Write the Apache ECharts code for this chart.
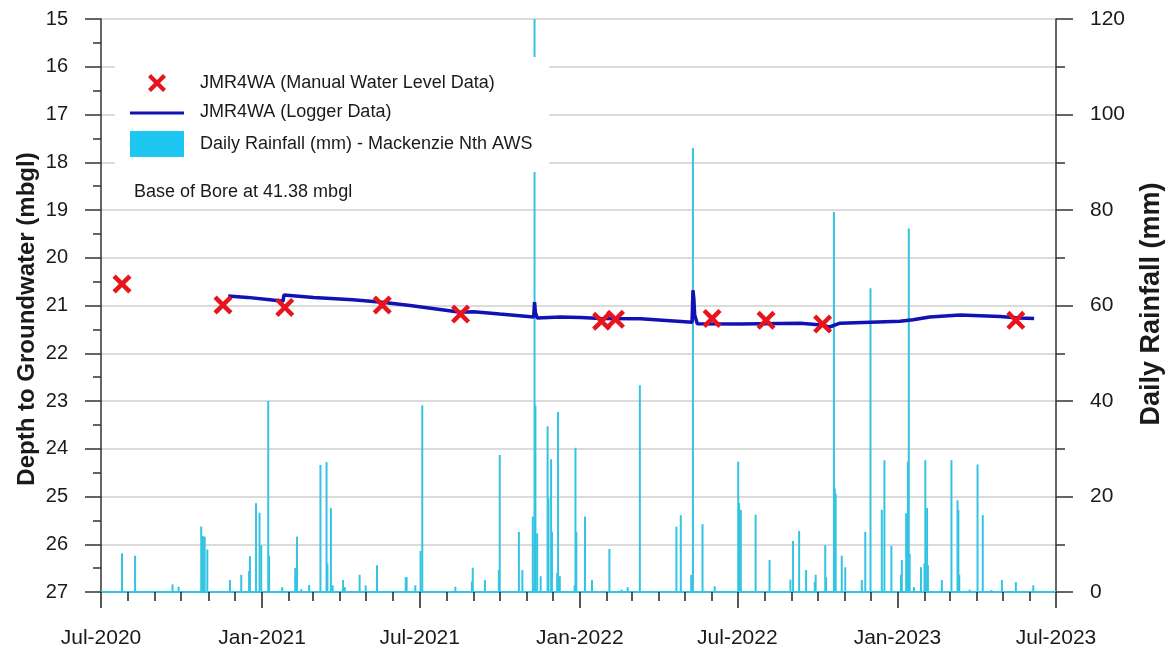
<!DOCTYPE html>
<html>
<head>
<meta charset="utf-8">
<script src="https://cdn.jsdelivr.net/npm/echarts@6/dist/echarts.min.js"></script>
<style>
html,body{margin:0;padding:0;background:#fff;}
#chart{width:1171px;height:652px;}
</style>
</head>
<body>
<div id="chart"></div>
<script>
// ---- Data ----
const manualLevels = [
  ['2020-07-24', 20.55], ['2020-11-17', 20.99], ['2021-01-27', 21.04],
  ['2021-05-19', 20.99], ['2021-08-17', 21.18], ['2022-01-26', 21.33],
  ['2022-02-11', 21.29], ['2022-06-02', 21.27], ['2022-08-03', 21.31],
  ['2022-10-07', 21.39], ['2023-05-17', 21.31]
];
const loggerLevels = [
  ['2020-11-23', 20.80], ['2020-12-15', 20.83], ['2021-01-10', 20.88],
  ['2021-01-25', 20.91], ['2021-01-26', 20.78], ['2021-03-01', 20.83],
  ['2021-04-15', 20.88], ['2021-05-19', 20.93], ['2021-06-20', 21.00],
  ['2021-08-17', 21.14], ['2021-09-01', 21.13], ['2021-10-01', 21.18],
  ['2021-11-09', 21.24], ['2021-11-10', 20.93], ['2021-11-11', 21.15],
  ['2021-11-13', 21.26], ['2021-12-10', 21.24], ['2022-01-02', 21.25],
  ['2022-01-25', 21.27], ['2022-03-12', 21.28], ['2022-05-10', 21.35],
  ['2022-05-11', 20.68], ['2022-05-12', 20.85], ['2022-05-13', 21.20],
  ['2022-05-16', 21.38], ['2022-07-04', 21.39], ['2022-09-11', 21.37],
  ['2022-10-06', 21.41], ['2022-10-15', 21.45], ['2022-10-27', 21.37],
  ['2022-12-01', 21.35], ['2023-01-04', 21.33], ['2023-01-19', 21.30],
  ['2023-02-07', 21.24], ['2023-03-14', 21.20], ['2023-04-29', 21.23],
  ['2023-05-21', 21.26], ['2023-06-07', 21.27]
];
const dailyRainfall = [
  ['2020-07-24',8.1],['2020-08-08',7.6],['2020-09-20',1.6],['2020-09-27',1.1],
  ['2020-10-23',13.7],['2020-10-25',11.7],['2020-10-27',11.6],['2020-10-30',8.9],
  ['2020-11-25',2.5],['2020-12-08',3.6],['2020-12-17',4.4],['2020-12-18',7.5],
  ['2020-12-25',18.6],['2020-12-29',16.6],['2020-12-31',9.8],['2021-01-08',40.0],
  ['2021-01-09',7.6],['2021-01-24',1.0],['2021-02-08',5.0],['2021-02-10',11.6],
  ['2021-02-15',0.6],['2021-02-24',1.5],['2021-03-09',26.6],['2021-03-16',27.2],
  ['2021-03-17',6.0],['2021-03-21',17.6],['2021-03-23',1.4],['2021-04-04',2.5],
  ['2021-04-06',1.0],['2021-04-23',3.6],['2021-04-30',1.4],['2021-05-13',5.6],
  ['2021-06-15',3.1],['2021-06-16',3.1],['2021-06-26',1.4],['2021-07-02',8.6],
  ['2021-07-04',39.1],['2021-08-11',1.1],['2021-08-30',2.2],['2021-08-31',5.1],
  ['2021-09-14',2.5],['2021-09-30',4.6],['2021-10-01',28.7],['2021-10-23',12.6],
  ['2021-10-27',4.6],['2021-11-08',15.8],['2021-11-10',120],['2021-11-11',39.1],
  ['2021-11-13',12.3],['2021-11-17',3.3],['2021-11-25',34.7],['2021-11-26',19.6],
  ['2021-11-29',27.8],['2021-11-30',12.6],['2021-12-06',4.0],['2021-12-07',37.7],
  ['2021-12-09',3.3],['2021-12-26',1.4],['2021-12-27',30.2],['2021-12-28',12.6],
  ['2022-01-07',15.8],['2022-01-15',2.5],['2022-02-04',9.0],['2022-02-18',0.5],
  ['2022-02-25',1.0],['2022-03-11',43.3],['2022-04-22',13.7],['2022-04-27',16.1],
  ['2022-05-09',3.6],['2022-05-11',93.0],['2022-05-22',14.2],['2022-06-05',1.2],
  ['2022-07-02',27.3],['2022-07-03',18.6],['2022-07-05',17.2],['2022-07-22',16.2],
  ['2022-08-07',6.7],['2022-08-31',2.6],['2022-09-03',10.7],['2022-09-10',12.8],
  ['2022-09-18',4.6],['2022-09-28',2.1],['2022-09-29',3.6],['2022-10-10',9.8],
  ['2022-10-11',3.1],['2022-10-20',79.6],['2022-10-21',21.7],['2022-10-22',20.6],
  ['2022-10-29',7.6],['2022-11-02',5.2],['2022-11-21',2.5],['2022-11-25',12.6],
  ['2022-12-01',63.6],['2022-12-14',17.2],['2022-12-17',27.6],['2022-12-25',9.7],
  ['2023-01-05',3.6],['2023-01-06',6.7],['2023-01-11',16.5],['2023-01-13',27.3],
  ['2023-01-14',76.1],['2023-01-15',8.0],['2023-01-20',1.0],['2023-01-28',5.2],
  ['2023-02-01',6.0],['2023-02-02',27.6],['2023-02-04',17.6],['2023-02-05',5.6],
  ['2023-02-21',2.5],['2023-03-04',27.6],['2023-03-11',19.2],['2023-03-12',17.2],
  ['2023-03-13',3.6],['2023-03-25',0.5],['2023-04-03',26.7],['2023-04-09',16.1],
  ['2023-04-19',0.4],['2023-05-01',2.5],['2023-05-17',2.1],['2023-06-06',1.4]
];
const monthNames = ['Jan','Feb','Mar','Apr','May','Jun','Jul','Aug','Sep','Oct','Nov','Dec'];
const xStart = '2020-07-01';
const xEnd = '2023-07-01';
const legendLabels = ['JMR4WA (Manual Water Level Data)', 'JMR4WA (Logger Data)', 'Daily Rainfall (mm) - Mackenzie Nth AWS'];
const noteText = 'Base of Bore at 41.38 mbgl';
const leftTitle = 'Depth to Groundwater (mbgl)';
const rightTitle = 'Daily Rainfall (mm)';

// ---- Styles ----
const FONT = 'Liberation Sans, Arial, sans-serif';
const TXT = '#1a1a1a';
const RED = '#e8141c';
const BLUE = '#1212b4';
const CYAN = '#34c4e2';
const CYAN_LEG = '#1ec6f2';
const X_PATH = 'path://M0,3 L3,0 L9,6 L15,0 L18,3 L12,9 L18,15 L15,18 L9,12 L3,18 L0,15 L6,9 Z';
const X_POINTS = [[0,3],[3,0],[9,6],[15,0],[18,3],[12,9],[18,15],[15,18],[9,12],[3,18],[0,15],[6,9]];
const HALF_MONTH = 15 * 86400000;

const chart = echarts.init(document.getElementById('chart'), null, {renderer: 'canvas'});

const option = {
  animation: false,
  backgroundColor: '#fff',
  grid: {left: 101, top: 19, width: 955, height: 573, containLabel: false},
  xAxis: [
    {
      type: 'time', min: xStart, max: xEnd, splitNumber: 6, position: 'bottom',
      axisLine: {show: true, lineStyle: {color: CYAN, width: 2}},
      axisTick: {show: true, length: 16, lineStyle: {color: '#222', width: 1.5}},
      axisLabel: {
        color: TXT, fontFamily: FONT, fontSize: 21, margin: 36,
        showMinLabel: true, showMaxLabel: true,
        formatter: function (v) { const d = new Date(v + HALF_MONTH); return monthNames[d.getMonth()] + '-' + d.getFullYear(); }
      },
      splitLine: {show: false}
    },
    {
      type: 'time', min: xStart, max: xEnd, splitNumber: 36, position: 'bottom',
      axisLine: {show: false},
      axisTick: {show: true, length: 9, lineStyle: {color: '#222', width: 1.5}},
      axisLabel: {show: false},
      splitLine: {show: false}
    }
  ],
  yAxis: [
    {
      type: 'value', inverse: true, min: 15, max: 27, interval: 1, position: 'left',
      axisLine: {show: true, lineStyle: {color: '#333', width: 1.5}},
      axisTick: {show: true, length: 16, lineStyle: {color: '#333', width: 1.5}},
      minorTick: {show: true, splitNumber: 2, length: 8, lineStyle: {color: '#333', width: 1.5}},
      axisLabel: {color: TXT, fontFamily: FONT, fontSize: 20, margin: 33},
      splitLine: {show: true, lineStyle: {color: '#cfcfcf', width: 1.5}}
    },
    {
      type: 'value', min: 0, max: 120, interval: 20, position: 'right',
      axisLine: {show: true, lineStyle: {color: '#333', width: 1.5}},
      axisTick: {show: true, length: 17, lineStyle: {color: '#333', width: 1.5}},
      minorTick: {show: true, splitNumber: 2, length: 9, lineStyle: {color: '#333', width: 1.5}},
      axisLabel: {color: TXT, fontFamily: FONT, fontSize: 21, margin: 34},
      splitLine: {show: false}
    }
  ],
  series: [
    {
      name: legendLabels[2], type: 'bar', xAxisIndex: 0, yAxisIndex: 1,
      data: dailyRainfall, barWidth: 2,
      itemStyle: {color: CYAN}, z: 2, silent: true
    },
    {
      name: legendLabels[1], type: 'line', xAxisIndex: 0, yAxisIndex: 0,
      data: loggerLevels, showSymbol: false, symbol: 'none',
      lineStyle: {color: BLUE, width: 3.5}, z: 3, silent: true
    },
    {
      name: legendLabels[0], type: 'scatter', xAxisIndex: 0, yAxisIndex: 0,
      data: manualLevels, symbol: X_PATH, symbolSize: 19,
      itemStyle: {color: RED, opacity: 1}, z: 4, silent: true
    }
  ],
  graphic: [
    {type: 'rect', z: 50, shape: {x: 115, y: 57, width: 434, height: 115}, style: {fill: '#fff'}},
    {type: 'polygon', z: 51, x: 148, y: 74, shape: {points: X_POINTS}, style: {fill: RED}},
    {type: 'line', z: 51, shape: {x1: 130, y1: 113, x2: 184, y2: 113}, style: {stroke: BLUE, lineWidth: 3}},
    {type: 'rect', z: 51, shape: {x: 130, y: 131, width: 54, height: 26}, style: {fill: CYAN_LEG}},
    {type: 'text', z: 51, x: 200, y: 83, style: {text: legendLabels[0], font: '18px ' + FONT, fill: TXT, textVerticalAlign: 'middle'}},
    {type: 'text', z: 51, x: 200, y: 112, style: {text: legendLabels[1], font: '18px ' + FONT, fill: TXT, textVerticalAlign: 'middle'}},
    {type: 'text', z: 51, x: 200, y: 144, style: {text: legendLabels[2], font: '18px ' + FONT, fill: TXT, textVerticalAlign: 'middle'}},
    {type: 'text', z: 51, x: 134, y: 192, style: {text: noteText, font: '18px ' + FONT, fill: TXT, textVerticalAlign: 'middle'}},
    {type: 'text', z: 51, x: 27, y: 319, rotation: Math.PI / 2, style: {text: leftTitle, font: 'bold 24px ' + FONT, fill: TXT, textAlign: 'center', textVerticalAlign: 'middle'}},
    {type: 'text', z: 51, x: 1152, y: 304, rotation: Math.PI / 2, style: {text: rightTitle, font: 'bold 27px ' + FONT, fill: TXT, textAlign: 'center', textVerticalAlign: 'middle'}}
  ]
};
chart.setOption(option);
</script>
</body>
</html>
